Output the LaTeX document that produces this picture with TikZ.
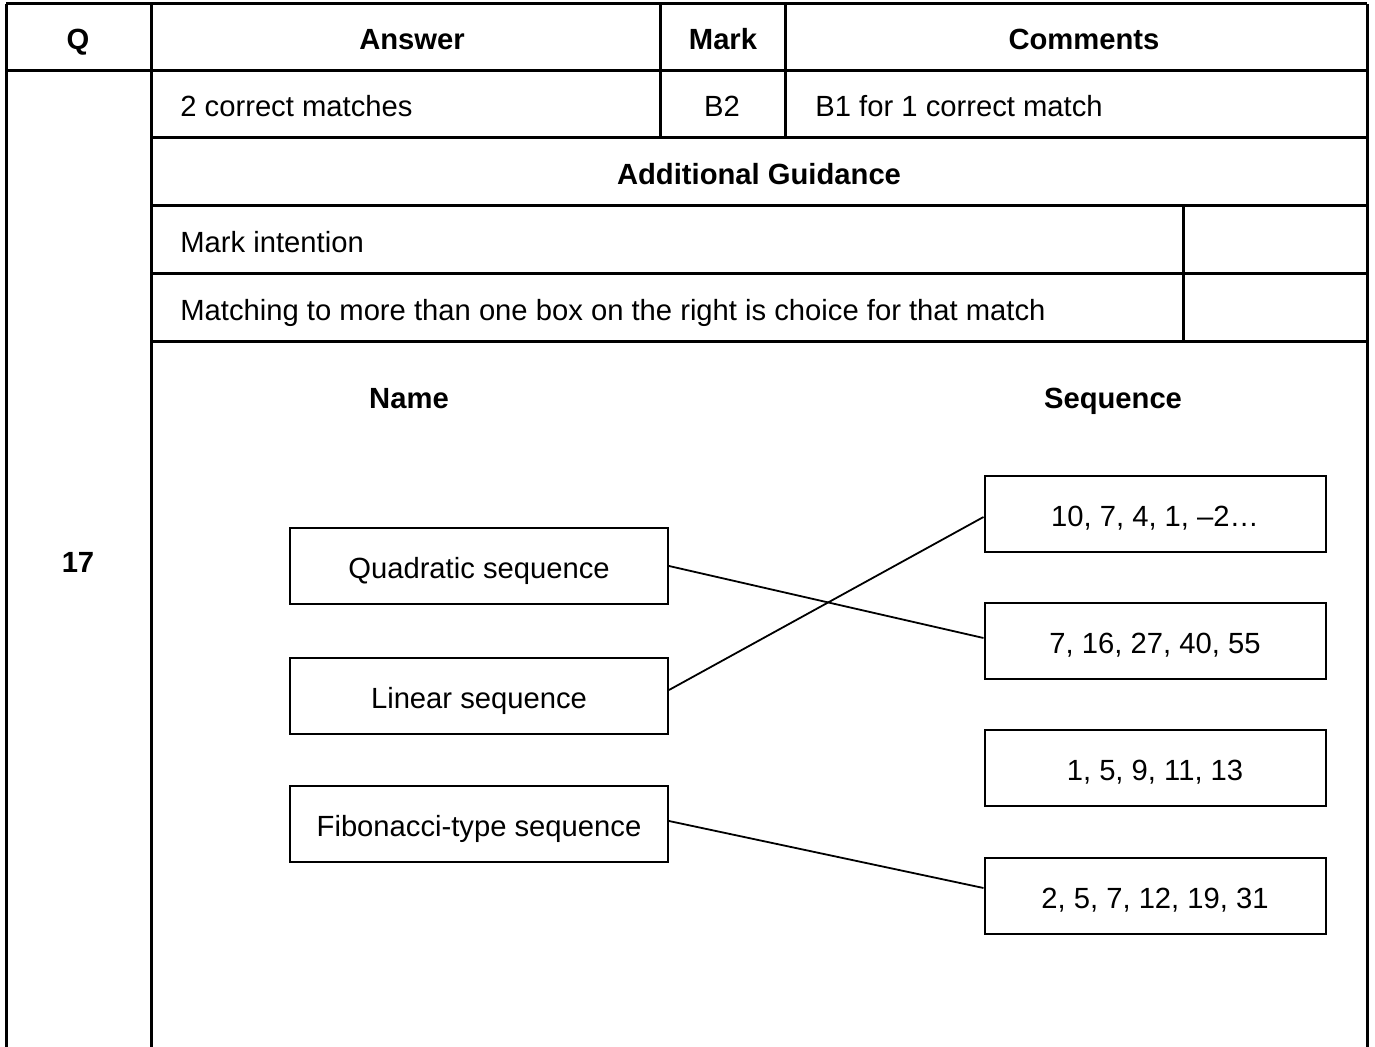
\documentclass[tikz,border=0pt]{standalone}
\usepackage{fontspec}
\setmainfont{Liberation Sans}
\usepackage{tikz}

\tikzset{
  tblline/.style={line width=1.5pt},
  cell/.style={inner sep=0pt, text height=12pt, text depth=0pt},
  namebox/.style={draw, line width=1pt, minimum width=189pt, minimum height=38pt, inner sep=0pt, text height=12pt, text depth=0pt},
  seqbox/.style={draw, line width=1pt, minimum width=170.5pt, minimum height=38pt, inner sep=0pt, text height=12pt, text depth=0pt},
  link/.style={line width=0.9pt}
}

\begin{document}
\begin{tikzpicture}[x=0.5pt,y=0.5pt,yscale=-1,xscale=1,font=\fontsize{14.6}{17.5}\selectfont]
				\useasboundingbox (0,0) rectangle (1375,1047);

				%Table: outer and column lines
				\draw [tblline]  (6,4) -- (1367,4) ;
				\draw [tblline]  (6,71) -- (1367,71) ;
				\draw [tblline]  (151,138) -- (1367,138) ;
				\draw [tblline]  (151,206) -- (1367,206) ;
				\draw [tblline]  (151,274) -- (1367,274) ;
				\draw [tblline]  (151,342) -- (1367,342) ;
				\draw [tblline]  (6,4) -- (6,1047) ;
				\draw [tblline]  (151,4) -- (151,1047) ;
				\draw [tblline]  (660,4) -- (660,138) ;
				\draw [tblline]  (785,4) -- (785,138) ;
				\draw [tblline]  (1183,206) -- (1183,342) ;
				\draw [tblline]  (1367,4) -- (1367,1047) ;

				% Text Node
				\node [cell] (hq) at (78,38) {\bfseries Q};
				% Text Node
				\node [cell] (hans) at (412,38) {\bfseries Answer};
				% Text Node
				\node [cell] (hmark) at (723,38) {\bfseries Mark};
				% Text Node
				\node [cell] (hcom) at (1084,38) {\bfseries Comments};
				% Text Node
				\node [cell, anchor=west] (ans) at (180,105) {2 correct matches};
				% Text Node
				\node [cell] (mark) at (722,105) {B2};
				% Text Node
				\node [cell, anchor=west] (com) at (815,105) {B1 for 1 correct match};
				% Text Node
				\node [cell] (guid) at (759,173) {\bfseries Additional Guidance};
				% Text Node
				\node [cell, anchor=west] (intent) at (180,241) {Mark intention};
				% Text Node
				\node [cell, anchor=west] (choice) at (180,309) {Matching to more than one box on the right is choice for that match};
				% Text Node
				\node [cell] (qnum) at (78,561) {\bfseries 17};

				% Text Node
				\node [cell] (hname) at (409,397) {\bfseries Name};
				% Text Node
				\node [cell] (hseq) at (1113,397) {\bfseries Sequence};

				%Shape: Rectangle (names)
				\node [namebox] (quad) at (479,566) {Quadratic sequence};
				\node [namebox] (lin) at (479,696) {Linear sequence};
				\node [namebox] (fib) at (479,824) {Fibonacci-type sequence};

				%Shape: Rectangle (sequences)
				\node [seqbox] (sa) at (1155,514) {10, 7, 4, 1, –2…};
				\node [seqbox] (sb) at (1155,641) {7, 16, 27, 40, 55};
				\node [seqbox] (sc) at (1155,768) {1, 5, 9, 11, 13};
				\node [seqbox] (sd) at (1155,896) {2, 5, 7, 12, 19, 31};

				%Straight Lines
				\draw [link]  (quad.east) -- ([yshift=-1.5pt]sb.west) ;
				\draw [link]  ([yshift=-3pt]lin.east) -- ([yshift=1.5pt]sa.west) ;
				\draw [link]  ([yshift=-1.5pt]fib.east) -- ([yshift=-4pt]sd.west) ;

\end{tikzpicture}
\end{document}
